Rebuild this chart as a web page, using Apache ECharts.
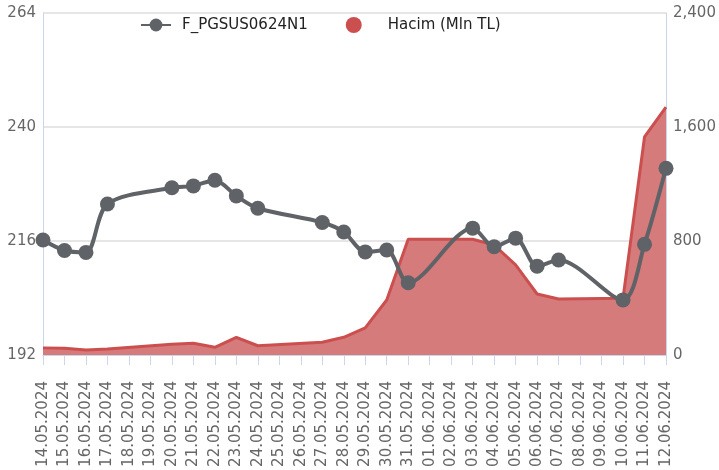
<!DOCTYPE html>
<html>
<head>
<meta charset="utf-8">
<script src="https://cdn.jsdelivr.net/npm/echarts@6/dist/echarts.min.js"></script>
<style>
  html, body { margin: 0; padding: 0; background: #fff; }
  #chart { width: 719px; height: 470px; }
</style>
</head>
<body>
<div id="chart"></div>
<script>
  // tarihler (hafta sonlari bos)
  var dates = ['14.05.2024','15.05.2024','16.05.2024','17.05.2024','18.05.2024','19.05.2024','20.05.2024',
    '21.05.2024','22.05.2024','23.05.2024','24.05.2024','25.05.2024','26.05.2024','27.05.2024','28.05.2024',
    '29.05.2024','30.05.2024','31.05.2024','01.06.2024','02.06.2024','03.06.2024','04.06.2024','05.06.2024',
    '06.06.2024','07.06.2024','08.06.2024','09.06.2024','10.06.2024','11.06.2024','12.06.2024'];

  // fiyat
  var price = [216.2, 214.0, 213.6, 223.8, null, null, 227.2,
    227.6, 228.8, 225.5, 222.9, null, null, 219.9, 217.9,
    213.7, 214.1, 207.2, null, null, 218.7, 214.8, 216.6,
    210.7, 212.0, null, null, 203.6, 215.3, 231.3];

  // hacim (mln TL)
  var volume = [50, 47, 35, 42, null, null, 75,
    82, 54, 124, 65, null, null, 89, 124,
    190, 386, 812, null, null, 812, 772, 632,
    428, 393, null, null, 398, 1530, 1740];

  var leftTicks = {min: 192, max: 264, interval: 24};
  var rightTicks = {min: 0, max: 2400, interval: 800};

  var chart = echarts.init(document.getElementById('chart'));
  var font = 'DejaVu Sans';

  var option = {
    animation: false,
    legend: {
      top: 12,
      left: 135,
      itemGap: 38,
      itemWidth: 30,
      itemHeight: 16,
      textStyle: {color: '#222', fontSize: 15, fontFamily: font},
      data: [
        {name: 'F_PGSUS0624N1', textStyle: {padding: [0, 0, 0, 6]}},
        {name: 'Hacim (Mln TL)', icon: 'circle', textStyle: {padding: [0, 0, 0, 14]}}
      ]
    },
    grid: {left: 43, right: 53, top: 13, bottom: 115},
    xAxis: {
      type: 'category',
      data: dates,
      boundaryGap: false,
      axisLine: {lineStyle: {color: '#ccd6eb'}},
      axisTick: {show: true, interval: 0, length: 10, lineStyle: {color: '#ccd6eb'}},
      axisLabel: {interval: 0, rotate: 90, margin: 26, color: '#666', fontSize: 15, fontFamily: font},
      splitLine: {show: false}
    },
    yAxis: [
      {
        type: 'value',
        min: leftTicks.min, max: leftTicks.max, interval: leftTicks.interval,
        axisLine: {show: true, lineStyle: {color: '#ccd6eb'}},
        axisTick: {show: false},
        axisLabel: {margin: 7, color: '#666', fontSize: 15, fontFamily: font},
        splitLine: {lineStyle: {color: '#e6e6e6', width: 2}}
      },
      {
        type: 'value',
        min: rightTicks.min, max: rightTicks.max, interval: rightTicks.interval,
        axisLine: {show: true, lineStyle: {color: '#ccd6eb'}},
        axisTick: {show: false},
        axisLabel: {
          margin: 7, color: '#666', fontSize: 15, fontFamily: font,
          formatter: function (v) { return v.toLocaleString('en-US'); }
        },
        splitLine: {show: false}
      }
    ],
    series: [
      {
        name: 'Hacim (Mln TL)',
        type: 'line',
        yAxisIndex: 1,
        data: volume,
        connectNulls: true,
        showSymbol: false,
        symbol: 'circle',
        itemStyle: {color: '#cc4f4f'},
        lineStyle: {color: '#cc4f4f', width: 3},
        areaStyle: {color: '#d67b7b', opacity: 1},
        z: 1
      },
      {
        name: 'F_PGSUS0624N1',
        type: 'line',
        yAxisIndex: 0,
        data: price,
        connectNulls: true,
        smooth: 0.3,
        symbol: 'circle',
        symbolSize: 15,
        itemStyle: {color: '#5f6266'},
        lineStyle: {color: '#5f6266', width: 4},
        z: 3
      }
    ]
  };
  option && chart.setOption(option);
</script>
</body>
</html>
